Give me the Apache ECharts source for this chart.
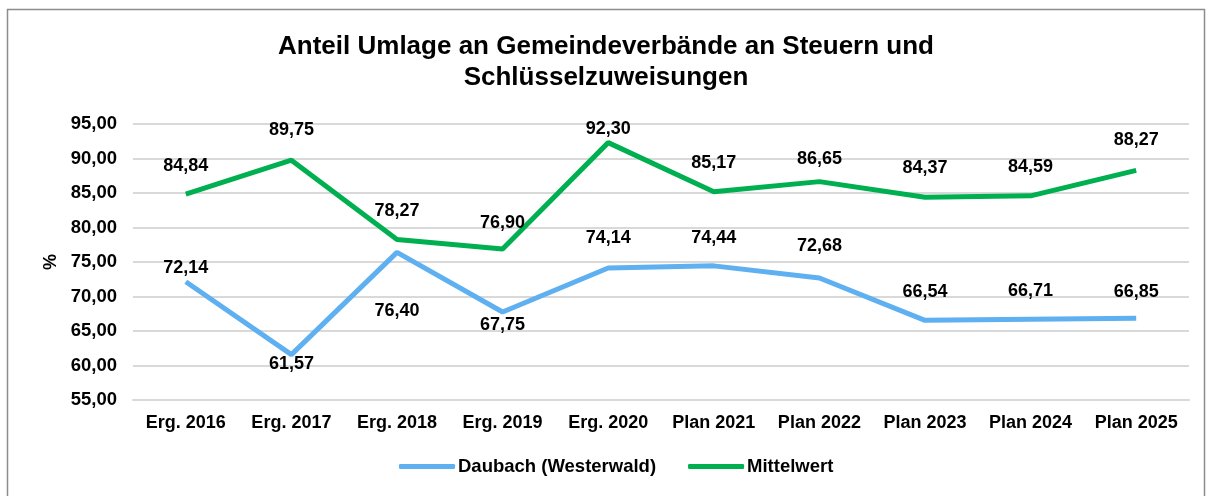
<!DOCTYPE html>
<html><head><meta charset="utf-8">
<script src="https://cdn.jsdelivr.net/npm/echarts@6/dist/echarts.min.js"></script>
<style>html,body{margin:0;padding:0;background:#fff}#c{width:1212px;height:496px}</style>
</head><body><div id="c"></div>
<script>
const categories = ["Erg. 2016","Erg. 2017","Erg. 2018","Erg. 2019","Erg. 2020","Plan 2021","Plan 2022","Plan 2023","Plan 2024","Plan 2025"];
const daubach = [72.14, 61.57, 76.40, 67.75, 74.14, 74.44, 72.68, 66.54, 66.71, 66.85];
const mittelwert = [84.84, 89.75, 78.27, 76.90, 92.30, 85.17, 86.65, 84.37, 84.59, 88.27];
const seriesNames = ["Daubach (Westerwald)", "Mittelwert"];
const titleText = "Anteil Umlage an Gemeindeverbände an Steuern und\nSchlüsselzuweisungen";

// label placement (styling): [position, distance]
const daubachLabelPos = [["top",5],["bottom",0],["bottom",50],["bottom",4],["top",21],["top",19],["top",23],["top",19],["top",19],["top",17]];
const mittelLabelPos = [["top",19],["top",21],["top",19],["top",17],["top",5],["top",20],["top",14],["top",20],["top",20],["top",21]];

const fmt = v => v.toFixed(2).replace('.', ',');
const FONT = '"Liberation Sans", Arial, sans-serif';

function mkData(vals, pos) {
  return vals.map((v, i) => ({ value: v, label: { position: pos[i][0], distance: pos[i][1] } }));
}

const labelStyle = { show: true, fontFamily: FONT, fontWeight: 'bold', fontSize: 18, color: '#000', formatter: p => fmt(p.value) };

const chart = echarts.init(document.getElementById('c'), null, { renderer: 'canvas' });
chart.setOption({
  animation: false,
  backgroundColor: '#fff',
  graphic: [{ type: 'rect', shape: { x: 7.5, y: 9.5, width: 1197, height: 500 }, style: { fill: 'none', stroke: '#8c8c8c', lineWidth: 1.5 }, silent: true }],
  title: {
    text: titleText, left: 'center', top: 26,
    textStyle: { fontFamily: FONT, fontWeight: 'bold', fontSize: 26, color: '#000', lineHeight: 31 }
  },
  legend: {
    bottom: 15, left: 394, itemWidth: 56, itemHeight: 5, itemGap: 32,
    icon: 'roundRect',
    textStyle: { fontFamily: FONT, fontWeight: 'bold', fontSize: 18.5, color: '#000', padding: [0,0,0,-2] },
    data: seriesNames
  },
  grid: { left: 133, right: 23, top: 124, bottom: 96 },
  xAxis: {
    type: 'category', data: categories, boundaryGap: true,
    axisLine: { show: true, lineStyle: { color: '#d9d9d9', width: 2 } },
    axisTick: { show: false },
    axisLabel: { interval: 0, fontFamily: FONT, fontWeight: 'bold', fontSize: 18, color: '#000', margin: 14 }
  },
  yAxis: {
    type: 'value', min: 55, max: 95, interval: 5,
    name: '%', nameLocation: 'middle', nameGap: 71, nameRotate: 90,
    nameTextStyle: { fontFamily: FONT, fontWeight: 'bold', fontSize: 18, color: '#000' },
    axisLine: { show: false }, axisTick: { show: false },
    splitLine: { lineStyle: { color: '#d9d9d9', width: 2 } },
    axisLabel: { fontFamily: FONT, fontWeight: 'bold', fontSize: 18.5, color: '#000', margin: 16, formatter: v => fmt(v) }
  },
  series: [
    {
      name: seriesNames[0], type: 'line', data: mkData(daubach, daubachLabelPos),
      symbol: 'circle', symbolSize: 0.1, showSymbol: true,
      lineStyle: { color: '#5fb0f0', width: 5 }, itemStyle: { color: '#5fb0f0' },
      label: labelStyle
    },
    {
      name: seriesNames[1], type: 'line', data: mkData(mittelwert, mittelLabelPos),
      symbol: 'circle', symbolSize: 0.1, showSymbol: true,
      lineStyle: { color: '#00b050', width: 5 }, itemStyle: { color: '#00b050' },
      label: labelStyle
    }
  ]
});
</script></body></html>
